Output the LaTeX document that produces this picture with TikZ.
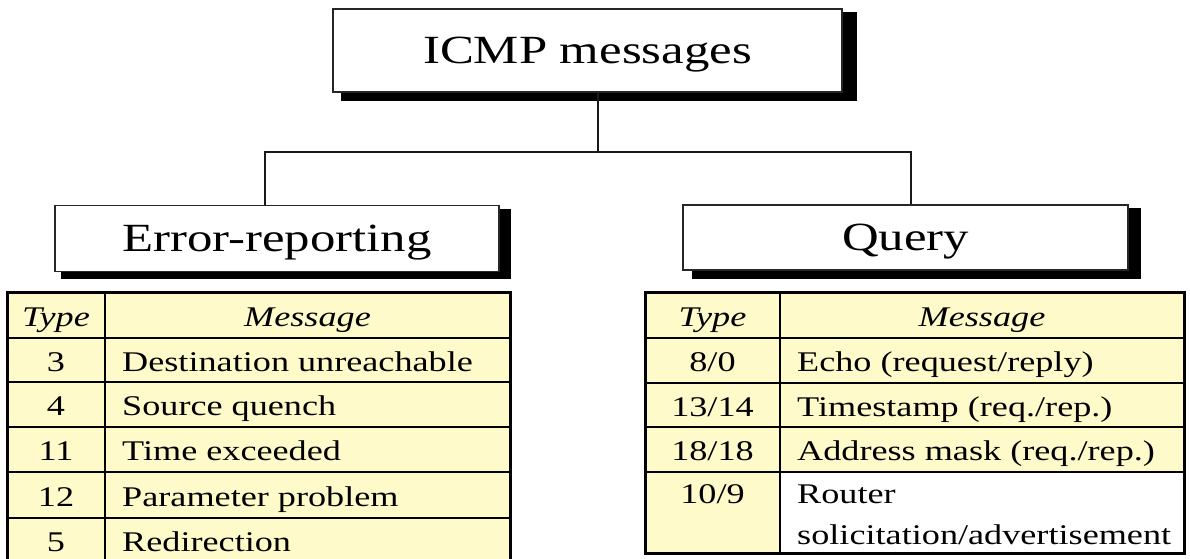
\documentclass[tikz,border=0pt]{standalone}
\usepackage{fontspec}
\setmainfont[FakeStretch=1.27]{Liberation Serif}
\usetikzlibrary{calc,backgrounds}
\definecolor{cellyellow}{RGB}{255,250,202}
\begin{document}
\begin{tikzpicture}[x=1pt,y=-1pt,
  box/.style={draw=black!85,line width=1.8pt,fill=white,inner sep=0pt},
  bigtext/.style={font=\fontsize{40}{48}\selectfont,text height=31pt,text depth=5pt},
  cell/.style={inner sep=0pt,text height=24pt,text depth=2pt,font=\fontsize{28.5}{34}\selectfont},
  msg/.style={cell,anchor=west},
  conn/.style={line width=1.8pt,draw=black!90},
  outer/.style={line width=3pt},
  inner/.style={line width=2pt}]
\useasboundingbox (0,0) rectangle (1190,558);
\clip (0,0) rectangle (1190,558);

% header boxes
\node[box,bigtext,minimum width=509pt,minimum height=83pt] (t) at (587.5,50.5) {ICMP messages};
\node[box,bigtext,minimum width=444pt,minimum height=66pt] (e) at (277,238.5) {Error-reporting};
\node[box,bigtext,minimum width=445pt,minimum height=65pt] (q) at (905.5,237.5) {Query};
\begin{pgfonlayer}{background}
  \fill ($(t.south west)+(9,8)$) rectangle ($(t.north east)+(14,4)$);
  \fill ($(e.south west)+(7,7)$) rectangle ($(e.north east)+(11,4)$);
  \fill ($(q.south west)+(10,8)$) rectangle ($(q.north east)+(12,4)$);
\end{pgfonlayer}

% connectors
\coordinate (j) at (598,152);
\coordinate (jl) at (265,152);
\coordinate (jr) at (911,152);
\draw[conn] (j |- t.south) -- (j);
\draw[conn] (jl |- e.north) -- (jl) -- (jr) -- (jr |- q.north);

% left table
\fill[cellyellow] (7,292) rectangle (510,565);
\draw[inner] (7,338) -- (510,338) (7,382) -- (510,382) (7,427) -- (510,427)
  (7,472) -- (510,472) (7,518) -- (510,518) (105,292) -- (105,565);
\draw[outer] (7,292) rectangle (510,563);
\node[cell] (lh1) at (56,315) {\itshape Type};
\node[cell] (lh2) at (307.5,315) {\itshape Message};
\node[cell] (lt1) at (56,360) {3};
\node[msg] (lm1) at (122,360) {Destination unreachable};
\node[cell] (lt2) at (56,404.5) {4};
\node[msg] (lm2) at (122,404.5) {Source quench};
\node[cell] (lt3) at (56,449.5) {11};
\node[msg] (lm3) at (122,449.5) {Time exceeded};
\node[cell] (lt4) at (56,495) {12};
\node[msg] (lm4) at (122,495) {Parameter problem};
\node[cell] (lt5) at (56,540.5) {5};
\node[msg] (lm5) at (122,540.5) {Redirection};

% right table
\fill[cellyellow] (645,292) rectangle (1184,472);
\fill[cellyellow] (645,472) rectangle (780,553);
\fill[white] (780,472) rectangle (1184,553);
\draw[inner] (645,338) -- (1184,338) (645,383) -- (1184,383) (645,427) -- (1184,427)
  (645,472) -- (1184,472) (780,292) -- (780,553);
\draw[outer] (645,292) rectangle (1184,553);
\node[cell] (rh1) at (712.5,315) {\itshape Type};
\node[cell] (rh2) at (982,315) {\itshape Message};
\node[cell] (rt1) at (712.5,360.5) {8/0};
\node[msg] (rm1) at (797,360.5) {Echo (request/reply)};
\node[cell] (rt2) at (712.5,405) {13/14};
\node[msg] (rm2) at (797,405) {Timestamp (req./rep.)};
\node[cell] (rt3) at (712.5,449.5) {18/18};
\node[msg] (rm3) at (797,449.5) {Address mask (req./rep.)};
\node[cell] (rt4) at (712.5,492) {10/9};
\node[msg] (rm4) at (797,492) {Router};
\node[msg] (rm5) at (797,533) {solicitation/advertisement};
\end{tikzpicture}
\end{document}
